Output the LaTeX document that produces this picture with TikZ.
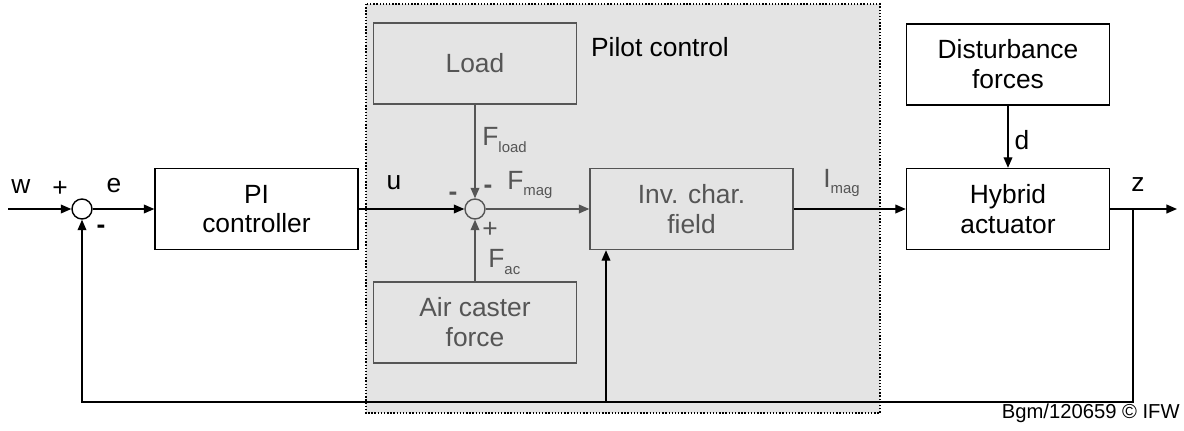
\documentclass[tikz,border=0pt]{standalone}
\usepackage{fontspec}
\setmainfont{Liberation Sans}
\usetikzlibrary{arrows.meta}
\definecolor{pilotbg}{HTML}{E4E4E4}
\definecolor{pilotfg}{HTML}{555555}
\newcommand{\sub}[1]{{\fontsize{8.5}{9}\selectfont\raisebox{-3.5pt}{#1}}}
\begin{document}
\begin{tikzpicture}[x=0.02cm,y=-0.02cm,
    font=\fontsize{15}{17}\selectfont,
    blk/.style={draw,line width=0.8pt,minimum width=4.06cm,minimum height=1.62cm,align=center},
    pblk/.style={blk,draw=pilotfg,text=pilotfg},
    sumpt/.style={draw,circle,line width=0.8pt,minimum size=0.4cm,inner sep=0pt},
    sig/.style={->,line width=0.8pt,>={Triangle[length=6pt,width=5pt]}},
    lbl/.style={inner sep=0pt}]
  \useasboundingbox (0,0) rectangle (1184,430);
  % pilot control region
  \fill[pilotbg] (366,4) rectangle (880,413);
  \draw[densely dotted,line width=0.8pt] (366,4) rectangle (880,413);
  \node[lbl] (ptitle) at (660,47) {Pilot control};
  % blocks
  \node[pblk] (load) at (475,63.5) {Load};
  \node[pblk] (air) at (475,322.5) {Air caster\\force};
  \node[pblk] (inv) at (691.5,209) {Inv. char.\\field};
  \node[blk] (pi) at (256.5,209) {PI\\controller};
  \node[blk] (dist) at (1008,64.5) {Disturbance\\forces};
  \node[blk] (hyb) at (1008,209) {Hybrid\\actuator};
  \node[sumpt] (s1) at (82,209) {};
  \node[sumpt,draw=pilotfg] (s2) at (475,209) {};
  \coordinate (win) at (8,209);
  \coordinate (zout) at (1177,209);
  \coordinate (zfork) at (1133,209);
  \coordinate (fbr) at (1133,402);
  \coordinate (fbl) at (82,402);
  \coordinate (fbinv) at (606,402);
  % connectors
  \draw[sig] (win) -- (s1);
  \draw[sig] (s1) -- (pi);
  \draw[sig] (pi) -- (s2);
  \draw[sig,pilotfg] (load) -- (s2);
  \draw[sig,pilotfg] (air) -- (s2);
  \draw[sig,pilotfg] (s2) -- (inv);
  \draw[sig] (inv) -- (hyb);
  \draw[sig] (dist) -- (hyb);
  \draw[sig] (hyb) -- (zout);
  \draw[sig] (zfork) -- (fbr) -- (fbl) -- (s1);
  \draw[sig] (fbinv) -- (fbinv |- inv.south);
  % signal labels
  \node[lbl] (lw) at (21,187) {w};
  \node[lbl] (lp1) at (60,189) {+};
  \node[lbl] (le) at (114,186) {e};
  \node[lbl] (lm1) at (101,229) {\textbf{-}};
  \node[lbl] (lu) at (394,183) {u};
  \node[lbl,pilotfg,anchor=west] (lfload) at (482,140) {F\sub{load}};
  \node[lbl,pilotfg] (lm2) at (453,196) {\textbf{-}};
  \node[lbl,pilotfg] (lm3) at (488,189) {\textbf{-}};
  \node[lbl,pilotfg,anchor=west] (lfmag) at (507,185) {F\sub{mag}};
  \node[lbl,pilotfg] (lp2) at (490,230) {+};
  \node[lbl,pilotfg,anchor=west] (lfac) at (488,262) {F\sub{ac}};
  \node[lbl,pilotfg,anchor=west] (limag) at (823,183) {I\sub{mag}};
  \node[lbl] (ld) at (1022,140) {d};
  \node[lbl] (lz) at (1138,185) {z};
  \node[lbl,anchor=east,font=\fontsize{11.5}{13}\selectfont] (credit) at (1180,413) {Bgm/120659 © IFW};
\end{tikzpicture}
\end{document}
